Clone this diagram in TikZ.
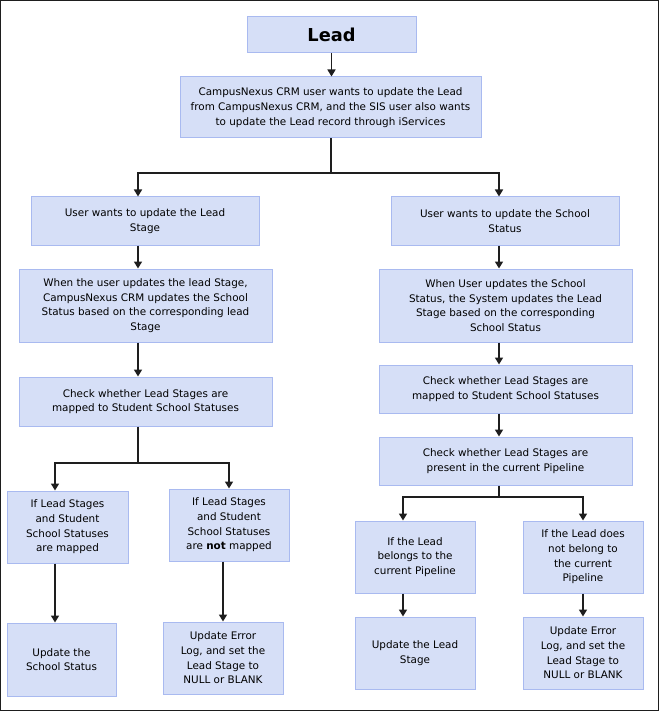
\documentclass[tikz,border=0pt]{standalone}
\usepackage{fontspec}
\setmainfont{DejaVu Sans}
\usetikzlibrary{positioning, arrows.meta}

\definecolor{boxfill}{HTML}{D6DFF7}
\definecolor{boxline}{HTML}{A9BAF0}
\definecolor{arrline}{HTML}{1E1E1E}

\tikzset{
    box/.style={draw=boxline, fill=boxfill, line width=1pt, align=center, inner sep=0pt,
        font=\fontsize{10.4}{14.7}\selectfont},
    sz/.style 2 args={minimum width=#1, minimum height=#2},
    conn/.style={draw=arrline, line width=1.6pt},
    arr/.style={conn, -{Triangle[width=8pt,length=7pt]}},
}

\begin{document}
\begin{tikzpicture}[x=1pt, y=-1pt]
    \useasboundingbox (0,0) rectangle (659,711);
    \draw[line width=1pt, arrline] (0.5,0.5) rectangle (658.5,710.5);

    % top
    \node[box, sz={169}{36}, font=\fontsize{17.8}{20}\selectfont\bfseries] (lead) at (331.5,35) {Lead};
    \node[box, sz={301}{61}] (crm) at (330.5,107.5) {CampusNexus CRM user wants to update the Lead\\from CampusNexus CRM, and the SIS user also wants\\to update the Lead record through iServices};

    % left branch
    \node[box, sz={228}{48}] (lstage) at (145,221) {User wants to update the Lead\\Stage};
    \node[box, sz={253}{73}] (lwhen) at (145.5,305.5) {When the user updates the lead Stage,\\CampusNexus CRM updates the School\\Status based on the corresponding lead\\Stage};
    \node[box, sz={253}{49}] (lcheck) at (145.5,401.5) {Check whether Lead Stages are\\mapped to Student School Statuses};
    \node[box, sz={121}{72}] (lmapped) at (67.5,527) {If Lead Stages\\and Student\\School Statuses\\are mapped};
    \node[box, sz={120}{72}] (lnot) at (229,525) {If Lead Stages\\and Student\\School Statuses\\are \textbf{not} mapped};
    \node[box, sz={109}{73}] (lschool) at (61.5,659.5) {Update the\\School Status};
    \node[box, sz={120}{72}] (lerror) at (223,658) {Update Error\\Log, and set the\\Lead Stage to\\NULL or BLANK};

    % right branch
    \node[box, sz={228}{48}] (rstatus) at (505,221) {User wants to update the School\\Status};
    \node[box, sz={253}{73}] (rwhen) at (505.5,305.5) {When User updates the School\\Status, the System updates the Lead\\Stage based on the corresponding\\School Status};
    \node[box, sz={253}{48}] (rcheck) at (505.5,389) {Check whether Lead Stages are\\mapped to Student School Statuses};
    \node[box, sz={253}{48}] (rpipe) at (505.5,461) {Check whether Lead Stages are\\present in the current Pipeline};
    \node[box, sz={120}{72}] (rbelong) at (415,557) {If the Lead\\belongs to the\\current Pipeline};
    \node[box, sz={120}{72}] (rnot) at (583,557) {If the Lead does\\not belong to\\the current\\Pipeline};
    \node[box, sz={120}{72}] (rlead) at (415,653) {Update the Lead\\Stage};
    \node[box, sz={120}{72}] (rerror) at (583,653) {Update Error\\Log, and set the\\Lead Stage to\\NULL or BLANK};

    % split points
    \coordinate (split) at (331,173);
    \coordinate (lsplit) at (138,463);
    \coordinate (rsplit) at (499,497);
    \coordinate (lm) at (55,463);
    \coordinate (rb) at (403,497);

    \draw[arr] (lead.south) -- (lead.south |- crm.north);
    \draw[conn] (crm.south -| split) -- (split);
    \draw[arr] (split) -| (lstage.north -| lsplit);
    \draw[arr] (split) -| (rstatus.north -| rsplit);

    \foreach \a/\b in {lstage/lwhen, lwhen/lcheck}
        \draw[arr] (\a.south -| lsplit) -- (\b.north -| lsplit);
    \draw[conn] (lcheck.south -| lsplit) -- (lsplit);
    \draw[arr] (lsplit) -| (lmapped.north -| lm);
    \draw[arr] (lsplit) -| (lnot.north);
    \draw[arr] (lmapped.south -| lm) -- (lschool.north -| lm);
    \draw[arr] (lnot.south -| lerror) -- (lerror.north);

    \foreach \a/\b in {rstatus/rwhen, rwhen/rcheck, rcheck/rpipe}
        \draw[arr] (\a.south -| rsplit) -- (\b.north -| rsplit);
    \draw[conn] (rpipe.south -| rsplit) -- (rsplit);
    \draw[arr] (rsplit) -| (rbelong.north -| rb);
    \draw[arr] (rsplit) -| (rnot.north);
    \draw[arr] (rbelong.south -| rb) -- (rlead.north -| rb);
    \draw[arr] (rnot.south) -- (rerror.north);
\end{tikzpicture}
\end{document}
